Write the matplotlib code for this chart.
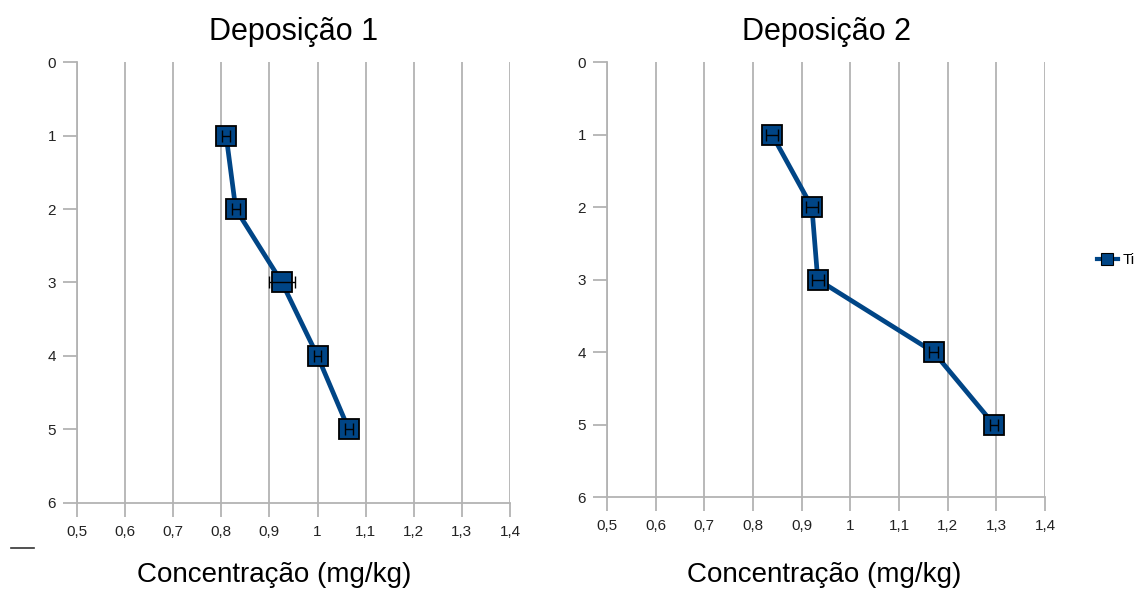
import matplotlib
matplotlib.use("Agg")
import matplotlib.pyplot as plt
from matplotlib.lines import Line2D

plt.rcParams['font.family'] = ['Liberation Sans', 'DejaVu Sans']

depth = [1, 2, 3, 4, 5]
dep1_conc = [0.81, 0.83, 0.926, 1.0, 1.065]
dep1_err = [0.008, 0.008, 0.027, 0.008, 0.008]
dep2_conc = [0.839, 0.921, 0.933, 1.171, 1.295]
dep2_err = [0.012, 0.012, 0.012, 0.010, 0.008]
titles = ["Deposição 1", "Deposição 2"]
x_ticks = [0.5, 0.6, 0.7, 0.8, 0.9, 1.0, 1.1, 1.2, 1.3, 1.4]
x_tick_labels = ["0,5", "0,6", "0,7", "0,8", "0,9", "1", "1,1", "1,2", "1,3", "1,4"]
y_ticks = [0, 1, 2, 3, 4, 5, 6]
series_name = "Ti"
xlabel = "Concentração (mg/kg)"

line_color = "#004586"
grid_color = "#b3b3b3"

fig = plt.figure(figsize=(11.34, 5.91), dpi=100)
ax1 = fig.add_axes([0.0679, 0.149, 0.3818, 0.746])
ax2 = fig.add_axes([0.5353, 0.159, 0.3862, 0.736])

for ax, title, conc, err, lx, ly in [(ax1, titles[0], dep1_conc, dep1_err, 0.455, -0.135),
                                     (ax2, titles[1], dep2_conc, dep2_err, 0.495, -0.15)]:
    ax.set_xlim(0.5, 1.4)
    ax.set_ylim(6, 0)
    ax.set_xticks(x_ticks)
    ax.set_xticklabels(x_tick_labels)
    ax.set_yticks(y_ticks)
    ax.grid(axis='x', color=grid_color, linewidth=1.3)
    ax.set_axisbelow(True)
    for s in ['top', 'right']:
        ax.spines[s].set_visible(False)
    for s in ['left', 'bottom']:
        ax.spines[s].set_color(grid_color)
        ax.spines[s].set_linewidth(1.3)
    ax.tick_params(axis='both', colors=grid_color, length=10, width=1.3,
                   labelcolor='#222222', labelsize=11)
    ax.tick_params(axis='x', pad=6)
    ax.tick_params(axis='y', pad=5)
    ax.set_title(title, fontsize=22, pad=16, color='black')
    ax.set_xlabel(xlabel, fontsize=20, color='black')
    ax.xaxis.set_label_coords(lx, ly)
    ax.plot(conc, depth, color=line_color, linewidth=3.4, marker='s',
            markersize=14, markerfacecolor=line_color,
            markeredgecolor='black', markeredgewidth=1.3, zorder=3)
    ax.errorbar(conc, depth, xerr=err, fmt='none', ecolor='black',
                elinewidth=1.0, capsize=4, capthick=1.0, zorder=4)

handle = Line2D([], [], color=line_color, linewidth=3, marker='s',
                markersize=8, markerfacecolor=line_color,
                markeredgecolor='black', markeredgewidth=0.8)
fig.legend([handle], [series_name], loc='center left',
           bbox_to_anchor=(0.955, 0.56), frameon=False, fontsize=11,
           handlelength=1.4, handletextpad=0.3)

fig.add_artist(Line2D([0.010, 0.030], [0.072, 0.072], color='#333333',
                      linewidth=1.2))

fig.savefig("out.png", dpi=100, facecolor='white')
